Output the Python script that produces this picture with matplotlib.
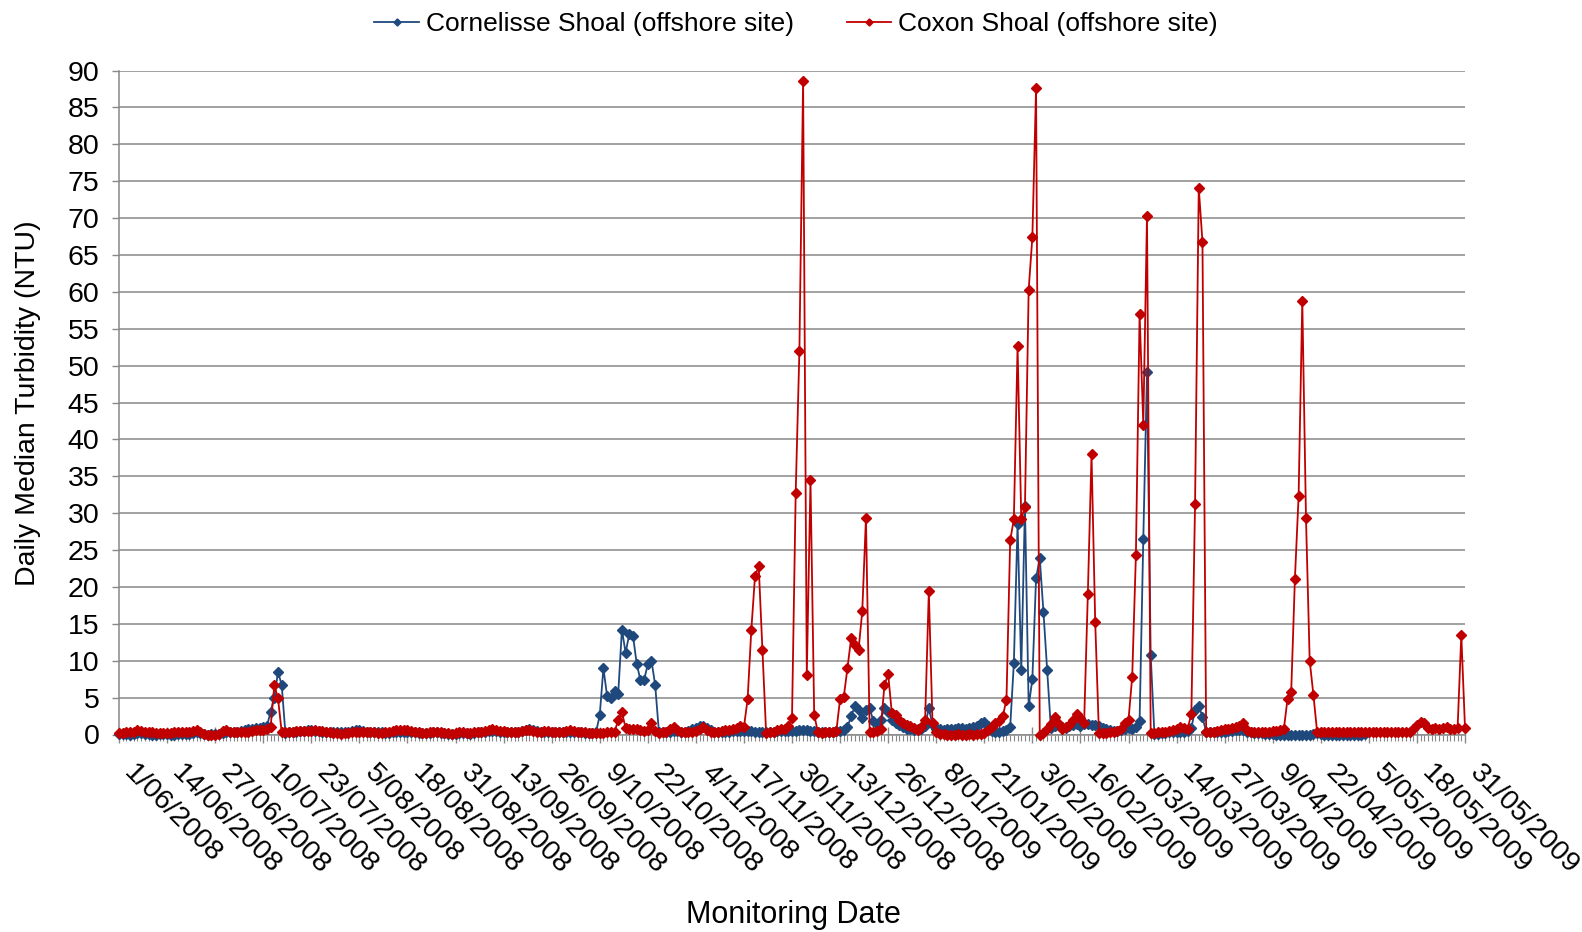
import numpy as np
import matplotlib
matplotlib.use("Agg")
import matplotlib.pyplot as plt

plt.rcParams['font.family'] = ['Liberation Sans', 'DejaVu Sans']

# category labels (one every 13 days)
tick_labels = ['1/06/2008', '14/06/2008', '27/06/2008', '10/07/2008', '23/07/2008',
               '5/08/2008', '18/08/2008', '31/08/2008', '13/09/2008', '26/09/2008',
               '9/10/2008', '22/10/2008', '4/11/2008', '17/11/2008', '30/11/2008',
               '13/12/2008', '26/12/2008', '8/01/2009', '21/01/2009', '3/02/2009',
               '16/02/2009', '1/03/2009', '14/03/2009', '27/03/2009', '9/04/2009',
               '22/04/2009', '5/05/2009', '18/05/2009', '31/05/2009']

# daily median turbidity (NTU), 1/06/2008 .. 31/05/2009, one row per 13 days
coxon = [
    0.2, 0.2, 0.3, 0.3, 0.4, 0.6, 0.5, 0.4, 0.3, 0.3, 0.2, 0.2, 0.2,
    0.2, 0.2, 0.3, 0.3, 0.3, 0.3, 0.4, 0.5, 0.6, 0.3, 0.1, 0.0, 0.0,
    0.0, 0.1, 0.5, 0.6, 0.3, 0.3, 0.3, 0.3, 0.4, 0.4, 0.5, 0.6, 0.6,
    0.6, 0.7, 1.0, 6.7, 4.9, 0.3, 0.3, 0.4, 0.4, 0.5, 0.5, 0.5, 0.5,
    0.5, 0.6, 0.5, 0.5, 0.4, 0.3, 0.2, 0.2, 0.1, 0.2, 0.2, 0.3, 0.3,
    0.3, 0.4, 0.4, 0.3, 0.3, 0.2, 0.2, 0.3, 0.4, 0.5, 0.6, 0.6, 0.6,
    0.6, 0.5, 0.4, 0.3, 0.2, 0.2, 0.3, 0.3, 0.4, 0.3, 0.2, 0.2, 0.1,
    0.2, 0.3, 0.3, 0.2, 0.2, 0.3, 0.3, 0.4, 0.5, 0.6, 0.7, 0.6, 0.5,
    0.5, 0.4, 0.3, 0.3, 0.4, 0.5, 0.6, 0.6, 0.5, 0.4, 0.4, 0.5, 0.5,
    0.4, 0.3, 0.3, 0.4, 0.5, 0.6, 0.5, 0.4, 0.3, 0.3, 0.2, 0.2, 0.2,
    0.2, 0.2, 0.3, 0.3, 0.4, 1.9, 3.0, 0.9, 0.8, 0.7, 0.8, 0.6, 0.5,
    0.6, 1.5, 0.5, 0.2, 0.3, 0.4, 0.8, 1.0, 0.6, 0.4, 0.3, 0.3, 0.4,
    0.5, 0.7, 1.0, 0.6, 0.4, 0.3, 0.4, 0.5, 0.6, 0.6, 0.7, 0.9, 1.1,
    1.0, 4.8, 14.2, 21.5, 22.8, 11.4, 0.2, 0.3, 0.4, 0.6, 0.7, 0.8, 1.1,
    2.2, 32.8, 52.0, 88.6, 8.1, 34.5, 2.7, 0.3, 0.2, 0.3, 0.3, 0.4, 0.5,
    4.8, 5.1, 9.0, 13.1, 12.2, 11.5, 16.7, 29.4, 0.4, 0.4, 0.5, 0.8, 6.7,
    8.2, 2.9, 2.6, 2.0, 1.6, 1.3, 1.1, 0.9, 0.6, 1.0, 2.0, 19.4, 1.5,
    0.4, 0.1, 0.1, 0.0, 0.0, 0.0, 0.1, 0.0, 0.0, 0.1, 0.0, 0.1, 0.1,
    0.2, 0.6, 1.0, 1.5, 1.8, 2.5, 4.7, 26.3, 29.2, 52.6, 29.2, 30.9, 60.3,
    67.4, 87.6, 0.0, 0.2, 0.8, 1.4, 2.4, 1.6, 0.8, 1.0, 1.3, 2.0, 2.8,
    2.2, 1.6, 19.0, 38.0, 15.2, 0.2, 0.2, 0.2, 0.3, 0.3, 0.5, 0.8, 1.6,
    2.0, 7.8, 24.3, 57.0, 42.0, 70.3, 0.2, 0.2, 0.3, 0.3, 0.4, 0.5, 0.6,
    0.8, 1.0, 0.9, 0.8, 2.8, 31.3, 74.1, 66.8, 0.3, 0.3, 0.4, 0.5, 0.6,
    0.7, 0.8, 0.9, 1.0, 1.1, 1.5, 0.6, 0.4, 0.3, 0.3, 0.3, 0.4, 0.4,
    0.5, 0.5, 0.6, 0.7, 4.8, 5.8, 21.1, 32.3, 58.8, 29.3, 10.0, 5.4, 0.4,
    0.3, 0.3, 0.4, 0.3, 0.3, 0.3, 0.4, 0.4, 0.3, 0.3, 0.3, 0.4, 0.3,
    0.3, 0.4, 0.4, 0.3, 0.3, 0.4, 0.4, 0.3, 0.3, 0.4, 0.4, 0.4, 0.8,
    1.3, 1.7, 1.5, 0.9, 0.8, 0.9, 0.8, 0.9, 1.0, 0.8, 0.8, 0.9, 13.5,
    0.9,
]

cornelisse = [
    0.1, 0.1, 0.1, 0.0, 0.1, 0.2, 0.2, 0.1, 0.1, 0.0, 0.0, 0.1, 0.1,
    0.1, 0.0, 0.0, 0.1, 0.1, 0.1, 0.1, 0.2, 0.3, 0.2, 0.1, 0.0, 0.1,
    0.1, 0.1, 0.2, 0.3, 0.3, 0.4, 0.4, 0.5, 0.6, 0.7, 0.8, 0.9, 0.9,
    1.0, 1.1, 3.1, 5.0, 8.5, 6.7, 0.2, 0.3, 0.3, 0.4, 0.5, 0.5, 0.6,
    0.6, 0.5, 0.5, 0.4, 0.4, 0.4, 0.3, 0.3, 0.3, 0.4, 0.4, 0.5, 0.6,
    0.6, 0.5, 0.4, 0.4, 0.3, 0.3, 0.3, 0.2, 0.2, 0.3, 0.4, 0.4, 0.4,
    0.4, 0.3, 0.3, 0.2, 0.2, 0.2, 0.2, 0.3, 0.3, 0.2, 0.2, 0.1, 0.1,
    0.1, 0.2, 0.2, 0.2, 0.1, 0.2, 0.3, 0.3, 0.4, 0.5, 0.5, 0.5, 0.4,
    0.4, 0.3, 0.3, 0.3, 0.4, 0.5, 0.6, 0.7, 0.6, 0.5, 0.4, 0.4, 0.4,
    0.3, 0.3, 0.3, 0.3, 0.4, 0.4, 0.4, 0.3, 0.3, 0.2, 0.2, 0.2, 0.3,
    2.6, 9.0, 5.2, 5.0, 5.9, 5.5, 14.2, 11.1, 13.6, 13.4, 9.6, 7.4, 7.4,
    9.5, 10.0, 6.7, 0.4, 0.3, 0.3, 0.4, 0.5, 0.5, 0.4, 0.4, 0.5, 0.7,
    0.9, 1.1, 1.2, 0.9, 0.6, 0.4, 0.4, 0.4, 0.4, 0.4, 0.5, 0.5, 0.5,
    0.5, 0.5, 0.5, 0.4, 0.4, 0.4, 0.4, 0.4, 0.4, 0.5, 0.5, 0.5, 0.5,
    0.5, 0.5, 0.6, 0.6, 0.6, 0.5, 0.5, 0.4, 0.4, 0.4, 0.4, 0.4, 0.5,
    0.5, 0.6, 1.0, 2.5, 3.8, 3.3, 2.3, 3.3, 3.6, 1.8, 1.4, 2.0, 3.6,
    3.0, 2.0, 1.6, 1.3, 1.0, 0.8, 0.7, 0.6, 0.7, 0.8, 1.2, 3.6, 1.3,
    0.8, 0.7, 0.6, 0.7, 0.8, 0.8, 0.9, 0.9, 0.8, 0.9, 1.0, 1.2, 1.5,
    1.7, 1.2, 0.5, 0.4, 0.4, 0.5, 0.6, 1.0, 9.7, 28.6, 8.7, 31.0, 3.8,
    7.5, 21.2, 23.9, 16.6, 8.7, 0.9, 1.2, 1.4, 1.0, 0.9, 1.1, 1.3, 1.4,
    1.2, 1.4, 1.4, 1.3, 1.3, 1.1, 0.9, 0.7, 0.6, 0.5, 0.5, 0.6, 0.8,
    0.9, 0.8, 1.0, 1.8, 26.5, 49.1, 10.8, 0.1, 0.1, 0.2, 0.2, 0.3, 0.3,
    0.3, 0.4, 0.4, 0.5, 0.9, 3.3, 3.9, 2.4, 0.3, 0.3, 0.3, 0.4, 0.4,
    0.4, 0.5, 0.5, 0.6, 0.6, 0.6, 0.4, 0.3, 0.2, 0.2, 0.2, 0.1, 0.1,
    0.1, 0.0, 0.0, 0.0, 0.0, 0.0, 0.0, 0.0, 0.0, 0.0, 0.0, 0.1, 0.2,
    0.1, 0.0, 0.0, 0.0, 0.0, 0.0, 0.0, 0.0, 0.0, 0.0, 0.0, 0.0, 0.1,
    None, None, None, None, None, None, None, None, None, None, None, None, None,
    None, None, None, None, None, None, None, None, None, None, None, None, None,
    None,
]

coxon = np.array(coxon, dtype=float)
cornelisse = np.array(cornelisse, dtype=float)
days = np.arange(len(coxon))

grey = '#888888'

fig = plt.figure(figsize=(15.82, 9.32), dpi=100)
ax = fig.add_axes([119 / 1582, 1 - 734.5 / 932, (1465 - 119) / 1582, (734.5 - 70.6) / 932])

ax.plot(days, cornelisse, color='#1F497D', lw=1.3, marker='D', ms=4.8,
        label='Cornelisse Shoal (offshore site)', clip_on=False, zorder=3)
ax.plot(days, coxon, color='#C00000', lw=1.3, marker='D', ms=4.8,
        label='Coxon Shoal (offshore site)', clip_on=False, zorder=4)

ax.set_xlim(0, 364)
ax.set_ylim(0, 90)
ax.set_yticks(range(0, 91, 5))
ax.yaxis.grid(True, color=grey, lw=1.1)
ax.set_axisbelow(True)

ax.set_xticks(days[::13])
ax.set_xticklabels(tick_labels, rotation=-45, ha='left', va='top')
ax.set_xticks(days, minor=True)
ax.tick_params(axis='x', which='major', direction='inout', length=12, width=1,
               color=grey, labelsize=20.5, pad=12)
ax.tick_params(axis='x', which='minor', direction='out', length=4.5, width=0.8, color=grey)
ax.tick_params(axis='y', direction='out', length=5, width=1, color=grey, labelsize=20.5, pad=9)

for s in ['top', 'right']:
    ax.spines[s].set_visible(False)
for s in ['left', 'bottom']:
    ax.spines[s].set_color(grey)
    ax.spines[s].set_linewidth(1.1)

fig.text(28 / 1582, 1 - 403 / 932, 'Daily Median Turbidity (NTU)', rotation=90,
         ha='center', va='center', fontsize=20.5)
fig.text(793 / 1582, 1 - 915 / 932, 'Monitoring Date', ha='center', va='center', fontsize=22)

fig.legend(loc='center', bbox_to_anchor=(796 / 1582, 1 - 24 / 932), ncol=2, frameon=False,
           fontsize=19, handlelength=1.7, handletextpad=0.25, columnspacing=2.0, markerscale=0.75)

fig.savefig('out.png', dpi=100)
